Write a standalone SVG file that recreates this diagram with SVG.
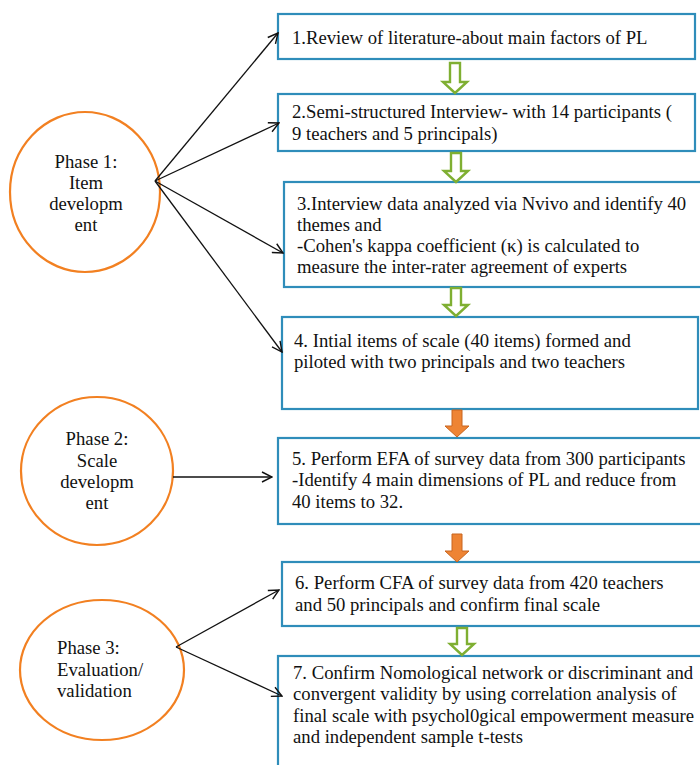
<svg xmlns="http://www.w3.org/2000/svg" width="700" height="765" viewBox="0 0 700 765">
<style>
.box{fill:#fff;stroke:#2F8DBA;stroke-width:2.2}
.ph{fill:#fff;stroke:#F28021;stroke-width:2.2}
.t{font-family:'Liberation Serif','Times New Roman',serif;font-size:18.7px;fill:#111}
.c{text-anchor:middle}
.ln{stroke:#111;stroke-width:1.3;fill:none;marker-end:url(#ah)}
.ga{fill:#fff;stroke:#7FAF32;stroke-width:2.4;stroke-linejoin:miter}
.oa{fill:#EE8434;stroke:#C8651E;stroke-width:1}
</style>
<defs>
<marker id="ah" viewBox="0 0 12 12" refX="11" refY="6" markerWidth="12" markerHeight="12" markerUnits="userSpaceOnUse" orient="auto">
<path d="M1,1 L11,6 L1,11" fill="none" stroke="#111" stroke-width="1.4"/>
</marker>
</defs>
<rect width="700" height="765" fill="#fff"/>

<g id="box1"><rect class="box" x="278" y="14" width="417" height="45"/>
<text class="t" x="292" y="44">1.Review of literature-about main factors of PL</text></g>
<g id="box2"><rect class="box" x="278" y="94" width="417" height="57"/>
<text class="t" x="292" y="118">2.Semi-structured Interview- with 14 participants (</text>
<text class="t" x="292" y="140">9 teachers and 5 principals)</text></g>
<g id="box3"><rect class="box" x="284" y="182" width="420" height="105"/>
<text class="t" x="297" y="210">3.Interview data analyzed via Nvivo and identify 40</text>
<text class="t" x="297" y="231">themes and</text>
<text class="t" x="297" y="252">-Cohen's kappa coefficient (κ) is calculated to</text>
<text class="t" x="297" y="273">measure the inter-rater agreement of experts</text></g>
<g id="box4"><rect class="box" x="282" y="317" width="416" height="92"/>
<text class="t" x="294" y="347">4. Intial  items of scale (40 items) formed and</text>
<text class="t" x="294" y="368">piloted with two principals and two teachers</text></g>
<g id="box5"><rect class="box" x="278" y="438" width="426" height="86"/>
<text class="t" x="292" y="465">5. Perform EFA of survey data from 300 participants</text>
<text class="t" x="292" y="486">-Identify 4 main dimensions of PL and reduce from</text>
<text class="t" x="292" y="508">40 items to 32.</text></g>
<g id="box6"><rect class="box" x="282" y="562" width="422" height="64"/>
<text class="t" x="295" y="589">6. Perform CFA of survey data from 420 teachers</text>
<text class="t" x="295" y="611">and 50 principals and confirm final scale</text></g>
<g id="box7"><rect class="box" x="278" y="656" width="426" height="120"/>
<text class="t" x="293" y="679">7. Confirm Nomological network or discriminant and</text>
<text class="t" x="293" y="700">convergent validity by using correlation analysis of</text>
<text class="t" x="293" y="722">final scale with psychol0gical empowerment measure</text>
<text class="t" x="293" y="743">and independent sample t-tests</text></g>

<g id="phase1"><ellipse class="ph" cx="85" cy="192" rx="75" ry="80"/>
<text class="t c" x="86" y="168">Phase 1:</text>
<text class="t c" x="86" y="189">Item</text>
<text class="t c" x="86" y="210">developm</text>
<text class="t c" x="86" y="231">ent</text></g>
<g id="phase2"><ellipse class="ph" cx="97" cy="471" rx="76" ry="74"/>
<text class="t c" x="97" y="445">Phase 2:</text>
<text class="t c" x="97" y="467">Scale</text>
<text class="t c" x="97" y="488">developm</text>
<text class="t c" x="97" y="509">ent</text></g>
<g id="phase3"><ellipse class="ph" cx="102" cy="670" rx="82" ry="70"/>
<text class="t" x="57" y="654">Phase 3:</text>
<text class="t" x="57" y="676">Evaluation/</text>
<text class="t" x="57" y="697">validation</text></g>

<g id="connectors">
<line class="ln" x1="155" y1="181" x2="278" y2="33"/>
<line class="ln" x1="155" y1="181" x2="279" y2="123"/>
<line class="ln" x1="155" y1="181" x2="283" y2="253"/>
<line class="ln" x1="155" y1="181" x2="282" y2="352"/>
<line class="ln" x1="173" y1="477" x2="272" y2="477"/>
<line class="ln" x1="176" y1="647" x2="279" y2="590"/>
<line class="ln" x1="176" y1="647" x2="282" y2="696"/>
<path class="ga" d="M450,63 L460,63 L460,82 L467,82 L455,93 L443,82 L450,82 Z"/>
<path class="ga" d="M451,153 L461,153 L461,171 L468,171 L456,182 L444,171 L451,171 Z"/>
<path class="ga" d="M451,288 L461,288 L461,305 L468,305 L456,316 L444,305 L451,305 Z"/>
<path class="ga" d="M457,628 L467,628 L467,644 L474,644 L462,655 L450,644 L457,644 Z"/>
<path class="oa" d="M452,410 L462,410 L462,426 L469,426 L457,437 L445,426 L452,426 Z"/>
<path class="oa" d="M452,534 L462,534 L462,551 L469,551 L457,562 L445,551 L452,551 Z"/>
</g>
</svg>
